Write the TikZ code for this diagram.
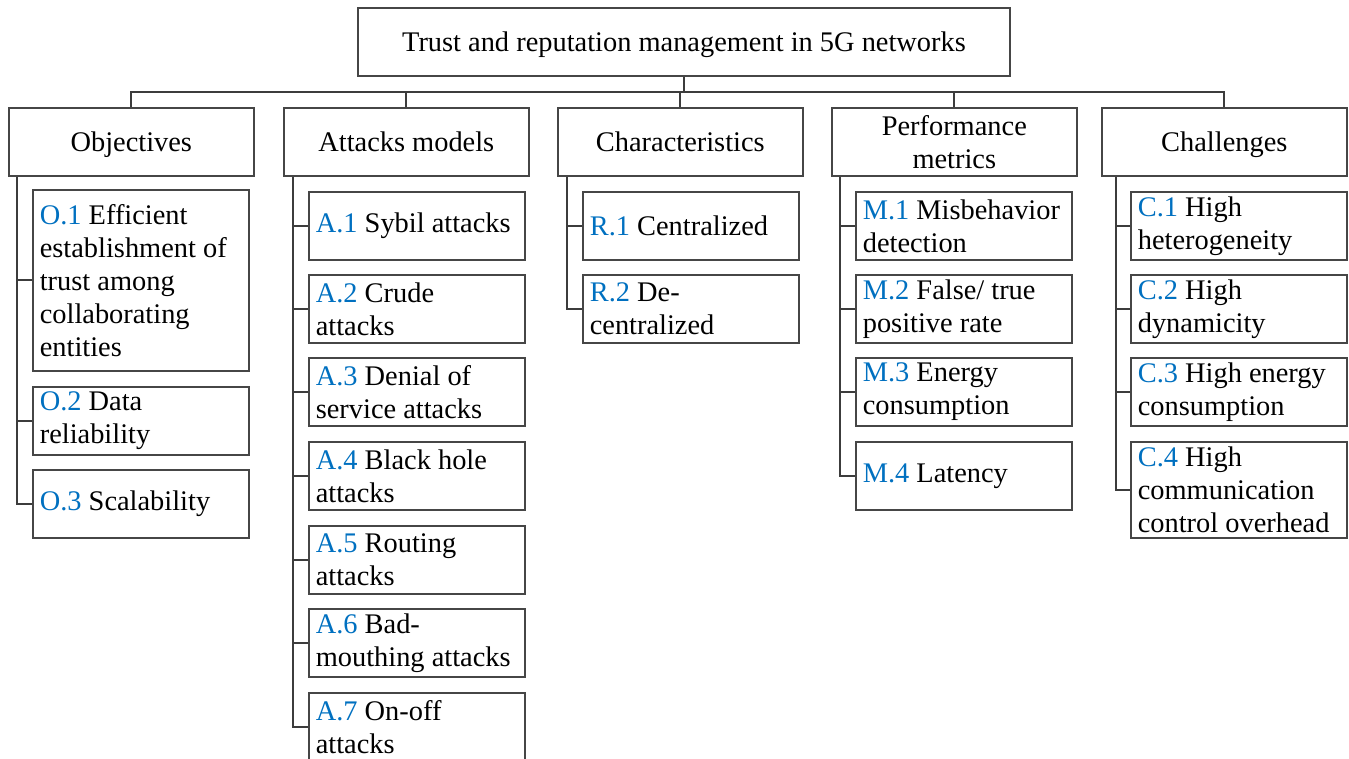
\documentclass[tikz,border=0pt]{standalone}
\usepackage{fontspec}
\setmainfont{Liberation Serif}
\usepackage{tikz}
\usepackage{xcolor}
\definecolor{idblue}{RGB}{0,112,192}
\definecolor{boxgray}{RGB}{70,70,70}
\newcommand{\itemid}[1]{\textcolor{idblue}{#1}}
\tikzset{every picture/.style={line width=1.2pt}}
\tikzset{
  treefont/.style={font=\fontsize{21.3pt}{24.75pt}\selectfont},
  rootbox/.style={draw=boxgray, line width=1.2pt, treefont, minimum width=489pt, minimum height=51pt, inner sep=0pt, text height=19pt, text depth=4.6pt, align=center},
  headbox/.style={draw=boxgray, line width=1.2pt, treefont, anchor=north west, minimum width=183.75pt, minimum height=51pt, inner sep=0pt, text height=19pt, text depth=4.6pt, align=center},
  itembox/.style={draw=boxgray, line width=1.2pt, treefont, anchor=north west, text width=151.5pt, inner xsep=5.25pt, inner ysep=0pt, minimum height=51pt, align=flush left},
  link/.style={draw=boxgray!85!black, line width=1.5pt}
}

\begin{document}
\begin{tikzpicture}[x=0.75pt,y=0.75pt,yscale=-1,xscale=1]
\useasboundingbox (0,0) rectangle (1349,758);

%Root
\node [rootbox] (root) at (684,42) {Trust and reputation management in 5G networks};

%Headers
\node [headbox] (obj) at (8,107) {Objectives};
\node [headbox] (att) at (283,107) {Attacks models};
\node [headbox] (chr) at (557,107) {Characteristics};
\node [headbox, text height={}, text depth={}] (prf) at (831,107) {Performance\\metrics};
\node [headbox] (chl) at (1101,107) {Challenges};

%Objectives
\node [itembox, minimum height=135.75pt] (o1) at (32,189) {\itemid{O.1} Efficient\\establishment of\\trust among\\collaborating\\entities};
\node [itembox] (o2) at (32,386) {\itemid{O.2} Data\\reliability};
\node [itembox] (o3) at (32,469) {\itemid{O.3} Scalability};

%Attacks models
\node [itembox] (a1) at (308,191) {\itemid{A.1} Sybil attacks};
\node [itembox] (a2) at (308,274) {\itemid{A.2} Crude\\attacks};
\node [itembox] (a3) at (308,357) {\itemid{A.3} Denial of\\service attacks};
\node [itembox] (a4) at (308,441) {\itemid{A.4} Black hole\\attacks};
\node [itembox] (a5) at (308,525) {\itemid{A.5} Routing\\attacks};
\node [itembox] (a6) at (308,608) {\itemid{A.6} Bad-\\mouthing attacks};
\node [itembox] (a7) at (308,692) {\itemid{A.7} On-off\\attacks};

%Characteristics
\node [itembox] (r1) at (582,191) {\itemid{R.1} Centralized};
\node [itembox] (r2) at (582,274) {\itemid{R.2} De-\\centralized};

%Performance metrics
\node [itembox] (m1) at (855,191) {\itemid{M.1} Misbehavior\\detection};
\node [itembox] (m2) at (855,274) {\itemid{M.2} False/ true\\positive rate};
\node [itembox] (m3) at (855,357) {\itemid{M.3} Energy\\consumption};
\node [itembox] (m4) at (855,441) {\itemid{M.4} Latency};

%Challenges
\node [itembox] (c1) at (1130,191) {\itemid{C.1} High\\heterogeneity};
\node [itembox] (c2) at (1130,274) {\itemid{C.2} High\\dynamicity};
\node [itembox] (c3) at (1130,357) {\itemid{C.3} High energy\\consumption};
\node [itembox, minimum height=72pt] (c4) at (1130,441) {\itemid{C.4} High\\communication\\control overhead};

%Bus
\coordinate (bus) at (684,92);
\draw [link] (root.south) -- (root.south |- bus);
\draw [link] (obj.north) -- (obj.north |- bus) -- (chl.north |- bus) -- (chl.north);
\draw [link] (att.north) -- (att.north |- bus);
\draw [link] (chr.north) -- (chr.north |- bus);
\draw [link] (prf.north) -- (prf.north |- bus);

%Trunks
\coordinate (ot) at (17,0);
\coordinate (at) at (293,0);
\coordinate (rt) at (567,0);
\coordinate (mt) at (840,0);
\coordinate (ct) at (1116,0);

\draw [link] (obj.south -| ot) |- (o3.west);
\draw [link] (o1.west) -- (o1.west -| ot);
\draw [link] (o2.west) -- (o2.west -| ot);

\draw [link] (att.south -| at) |- (a7.west);
\draw [link] (a1.west) -- (a1.west -| at);
\draw [link] (a2.west) -- (a2.west -| at);
\draw [link] (a3.west) -- (a3.west -| at);
\draw [link] (a4.west) -- (a4.west -| at);
\draw [link] (a5.west) -- (a5.west -| at);
\draw [link] (a6.west) -- (a6.west -| at);

\draw [link] (chr.south -| rt) |- (r2.west);
\draw [link] (r1.west) -- (r1.west -| rt);

\draw [link] (prf.south -| mt) |- (m4.west);
\draw [link] (m1.west) -- (m1.west -| mt);
\draw [link] (m2.west) -- (m2.west -| mt);
\draw [link] (m3.west) -- (m3.west -| mt);

\draw [link] (chl.south -| ct) |- (c4.west);
\draw [link] (c1.west) -- (c1.west -| ct);
\draw [link] (c2.west) -- (c2.west -| ct);
\draw [link] (c3.west) -- (c3.west -| ct);

\end{tikzpicture}
\end{document}
